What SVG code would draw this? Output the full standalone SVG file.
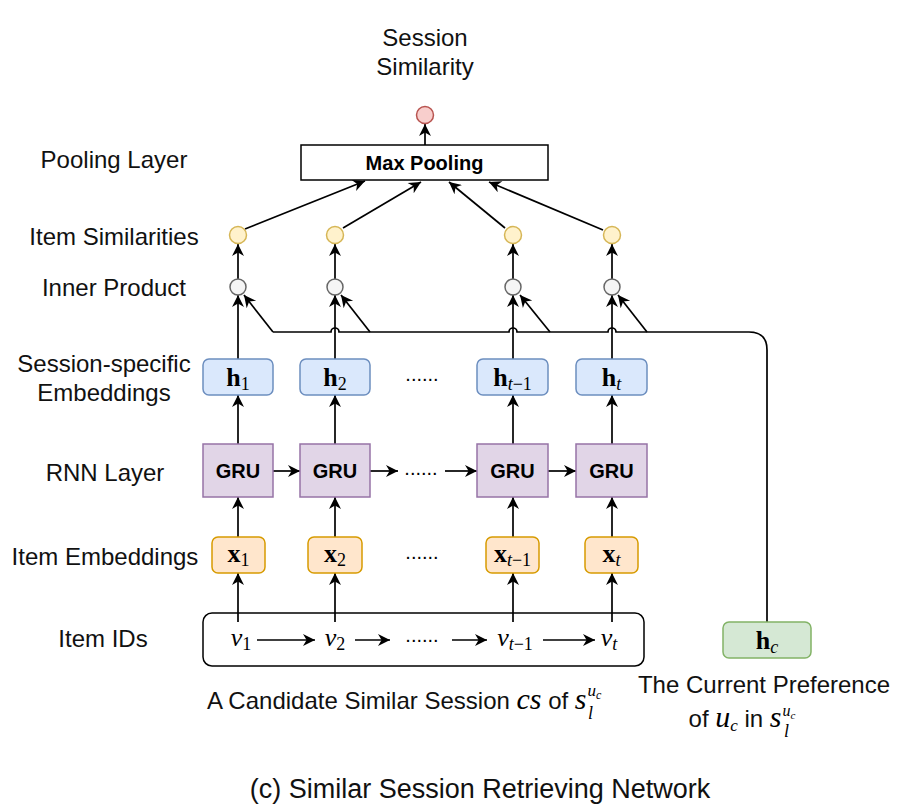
<svg xmlns="http://www.w3.org/2000/svg" width="910" height="809" viewBox="0 0 910 809">
<style>
.lbl{font-family:"Liberation Sans",Arial,sans-serif;font-size:24px;fill:#111;text-anchor:middle}
.bold{font-family:"Liberation Sans",Arial,sans-serif;font-size:20px;font-weight:bold;fill:#000;text-anchor:middle}
.m{font-family:"Liberation Serif","Times New Roman",serif;font-size:26px;fill:#000;text-anchor:middle}
.mb{font-weight:bold}
.it{font-style:italic}
.sub{font-size:18px}
.dots{font-family:"Liberation Sans",Arial,sans-serif;font-size:20px;fill:#000;text-anchor:middle}
.e{fill:none;stroke:#000;stroke-width:1.7}
.hb{fill:#dae8fc;stroke:#6c8ebf;stroke-width:1.5}
.gb{fill:#e1d5e7;stroke:#9673a6;stroke-width:1.5}
.xb{fill:#ffe6cc;stroke:#d79b00;stroke-width:1.5}
.yc{fill:#fff2cc;stroke:#d6b656;stroke-width:1.5}
.pc{fill:#f5f5f5;stroke:#666;stroke-width:1.5}
</style>
<defs>
<marker id="a" viewBox="0 0 10 10" refX="10" refY="5" markerUnits="userSpaceOnUse" markerWidth="14" markerHeight="12" orient="auto">
<path d="M0,0 L10,5 L0,10 L3,5 z" fill="#000"/>
</marker>
</defs>
<rect width="910" height="809" fill="#fff"/>

<g id="labels">
<text class="lbl" x="425" y="46">Session</text>
<text class="lbl" x="425" y="75">Similarity</text>
<text class="lbl" x="114" y="168">Pooling Layer</text>
<text class="lbl" x="114" y="245">Item Similarities</text>
<text class="lbl" x="114" y="296">Inner Product</text>
<text class="lbl" x="104" y="372">Session-specific</text>
<text class="lbl" x="104" y="401">Embeddings</text>
<text class="lbl" x="105" y="481">RNN Layer</text>
<text class="lbl" x="105" y="565">Item Embeddings</text>
<text class="lbl" x="103" y="647">Item IDs</text>
<text class="lbl" x="480" y="798" style="font-size:27px">(c) Similar Session Retrieving Network</text>
<text class="lbl" x="207" y="709" style="text-anchor:start">A Candidate Similar Session <tspan class="m it" style="font-size:30px">cs</tspan> of <tspan class="m it" style="font-size:30px">s</tspan><tspan class="m it" style="font-size:17px" dx="1" dy="-13">u</tspan><tspan class="m it" style="font-size:12px" dy="3">c</tspan></text>
<text class="m it" x="588" y="719" style="font-size:18px;text-anchor:start">l</text>
<text class="lbl" x="764" y="693">The Current Preference</text>
<text class="lbl" x="742" y="727">of <tspan class="m it" style="font-size:30px">u</tspan><tspan class="m it" style="font-size:17px" dy="4">c</tspan><tspan dy="-4"> in </tspan><tspan class="m it" style="font-size:30px">s</tspan><tspan class="m it" style="font-size:16px" dx="1" dy="-11">u</tspan><tspan class="m it" style="font-size:11px" dy="3">c</tspan></text>
<text class="m it" x="784" y="737" style="font-size:18px;text-anchor:start">l</text>
</g>

<g id="connectors">
<path class="e" marker-end="url(#a)" d="M425,145 V124"/>
<path class="e" marker-end="url(#a)" d="M245,229 L365,181"/>
<path class="e" marker-end="url(#a)" d="M343,228 L421,182"/>
<path class="e" marker-end="url(#a)" d="M505,228 L449,182"/>
<path class="e" marker-end="url(#a)" d="M603,230 L489,182"/>
<path class="e" marker-end="url(#a)" d="M238,279 V244"/>
<path class="e" marker-end="url(#a)" d="M335,279 V244"/>
<path class="e" marker-end="url(#a)" d="M513,279 V244"/>
<path class="e" marker-end="url(#a)" d="M612,279 V244"/>
<path class="e" marker-end="url(#a)" d="M238,359 V295"/>
<path class="e" marker-end="url(#a)" d="M335,359 V295"/>
<path class="e" marker-end="url(#a)" d="M513,359 V295"/>
<path class="e" marker-end="url(#a)" d="M612,359 V295"/>
<path class="e" d="M767,622 V350 Q767,332 749,332 H616 A4,4 0 0 0 608,332 H517 A4,4 0 0 0 509,332 H339 A4,4 0 0 0 331,332 H273"/>
<path class="e" marker-end="url(#a)" d="M273,332 L244,295"/>
<path class="e" marker-end="url(#a)" d="M370,332 L341,295"/>
<path class="e" marker-end="url(#a)" d="M550,332 L520,295"/>
<path class="e" marker-end="url(#a)" d="M647,332 L618,295"/>
<path class="e" marker-end="url(#a)" d="M238,444 V395"/>
<path class="e" marker-end="url(#a)" d="M335,444 V395"/>
<path class="e" marker-end="url(#a)" d="M513,444 V395"/>
<path class="e" marker-end="url(#a)" d="M612,444 V395"/>
<path class="e" marker-end="url(#a)" d="M273,471 H300"/>
<path class="e" marker-end="url(#a)" d="M370,471 H398"/>
<path class="e" marker-end="url(#a)" d="M445,471 H477"/>
<path class="e" marker-end="url(#a)" d="M548,471 H576"/>
<path class="e" marker-end="url(#a)" d="M238,537 V497"/>
<path class="e" marker-end="url(#a)" d="M335,537 V497"/>
<path class="e" marker-end="url(#a)" d="M513,537 V497"/>
<path class="e" marker-end="url(#a)" d="M612,537 V497"/>
<path class="e" marker-end="url(#a)" d="M238,622 V573"/>
<path class="e" marker-end="url(#a)" d="M335,622 V573"/>
<path class="e" marker-end="url(#a)" d="M513,622 V573"/>
<path class="e" marker-end="url(#a)" d="M612,622 V573"/>
<path class="e" marker-end="url(#a)" d="M257,640 H315"/>
<path class="e" marker-end="url(#a)" d="M355,640 H390"/>
<path class="e" marker-end="url(#a)" d="M452,640 H487"/>
<path class="e" marker-end="url(#a)" d="M543,640 H595"/>
</g>

<g id="max-pooling">
<rect x="301" y="145" width="247" height="35" fill="#fff" stroke="#000" stroke-width="1.5"/>
<text class="bold" x="424.5" y="170">Max Pooling</text>
</g>
<g id="session-similarity"><circle cx="425" cy="115" r="8.5" fill="#f8cecc" stroke="#b85450" stroke-width="1.5"/></g>

<g id="sim1"><circle class="yc" cx="238" cy="235" r="8.5"/></g>
<g id="sim2"><circle class="yc" cx="335" cy="235" r="8.5"/></g>
<g id="sim3"><circle class="yc" cx="513" cy="235" r="8.5"/></g>
<g id="sim4"><circle class="yc" cx="612" cy="235" r="8.5"/></g>

<g id="ip1"><circle class="pc" cx="238" cy="287" r="8"/></g>
<g id="ip2"><circle class="pc" cx="335" cy="287" r="8"/></g>
<g id="ip3"><circle class="pc" cx="513" cy="287" r="8"/></g>
<g id="ip4"><circle class="pc" cx="612" cy="287" r="8"/></g>

<g id="h1"><rect class="hb" x="203" y="359" width="70" height="36" rx="6"/><text class="m" x="238" y="386"><tspan class="mb">h</tspan><tspan class="sub" dy="4">1</tspan></text></g>
<g id="h2"><rect class="hb" x="300" y="359" width="70" height="36" rx="6"/><text class="m" x="335" y="386"><tspan class="mb">h</tspan><tspan class="sub" dy="4">2</tspan></text></g>
<g id="ht1"><rect class="hb" x="477" y="359" width="71" height="36" rx="6"/><text class="m" x="512.5" y="386"><tspan class="mb">h</tspan><tspan class="sub it" dy="4">t</tspan><tspan class="sub">−1</tspan></text></g>
<g id="ht"><rect class="hb" x="576" y="359" width="71" height="36" rx="6"/><text class="m" x="611.5" y="386"><tspan class="mb">h</tspan><tspan class="sub it" dy="4">t</tspan></text></g>
<text class="dots" x="422" y="381">......</text>

<g id="gru1"><rect class="gb" x="203" y="444" width="70" height="53"/><text class="bold" x="238" y="478">GRU</text></g>
<g id="gru2"><rect class="gb" x="300" y="444" width="70" height="53"/><text class="bold" x="335" y="478">GRU</text></g>
<g id="gru3"><rect class="gb" x="477" y="444" width="71" height="53"/><text class="bold" x="512.5" y="478">GRU</text></g>
<g id="gru4"><rect class="gb" x="576" y="444" width="71" height="53"/><text class="bold" x="611.5" y="478">GRU</text></g>
<text class="dots" x="421" y="475">......</text>

<g id="x1"><rect class="xb" x="212" y="537" width="53" height="36" rx="6"/><text class="m" x="238.5" y="562"><tspan class="mb">x</tspan><tspan class="sub" dy="4">1</tspan></text></g>
<g id="x2"><rect class="xb" x="308" y="537" width="54" height="36" rx="6"/><text class="m" x="335" y="562"><tspan class="mb">x</tspan><tspan class="sub" dy="4">2</tspan></text></g>
<g id="xt1"><rect class="xb" x="486" y="537" width="53" height="36" rx="6"/><text class="m" x="512.5" y="562"><tspan class="mb">x</tspan><tspan class="sub it" dy="4">t</tspan><tspan class="sub">−1</tspan></text></g>
<g id="xt"><rect class="xb" x="585" y="537" width="53" height="36" rx="6"/><text class="m" x="611.5" y="562"><tspan class="mb">x</tspan><tspan class="sub it" dy="4">t</tspan></text></g>
<text class="dots" x="422" y="559">......</text>

<g id="item-ids">
<rect x="203" y="613" width="441" height="53" rx="9" fill="none" stroke="#000" stroke-width="1.5"/>
<text class="m" x="241" y="646"><tspan class="it">v</tspan><tspan class="sub" dy="4">1</tspan></text>
<text class="m" x="335" y="646"><tspan class="it">v</tspan><tspan class="sub" dy="4">2</tspan></text>
<text class="m" x="515" y="646"><tspan class="it">v</tspan><tspan class="sub it" dy="4">t</tspan><tspan class="sub">−1</tspan></text>
<text class="m" x="609" y="646"><tspan class="it">v</tspan><tspan class="sub it" dy="4">t</tspan></text>
<text class="dots" x="422" y="642">......</text>
</g>

<g id="hc"><rect x="723" y="622" width="88" height="36" rx="6" fill="#d5e8d4" stroke="#82b366" stroke-width="1.5"/><text class="m" x="767" y="649"><tspan class="mb">h</tspan><tspan class="sub it" dy="4">c</tspan></text></g>
</svg>
